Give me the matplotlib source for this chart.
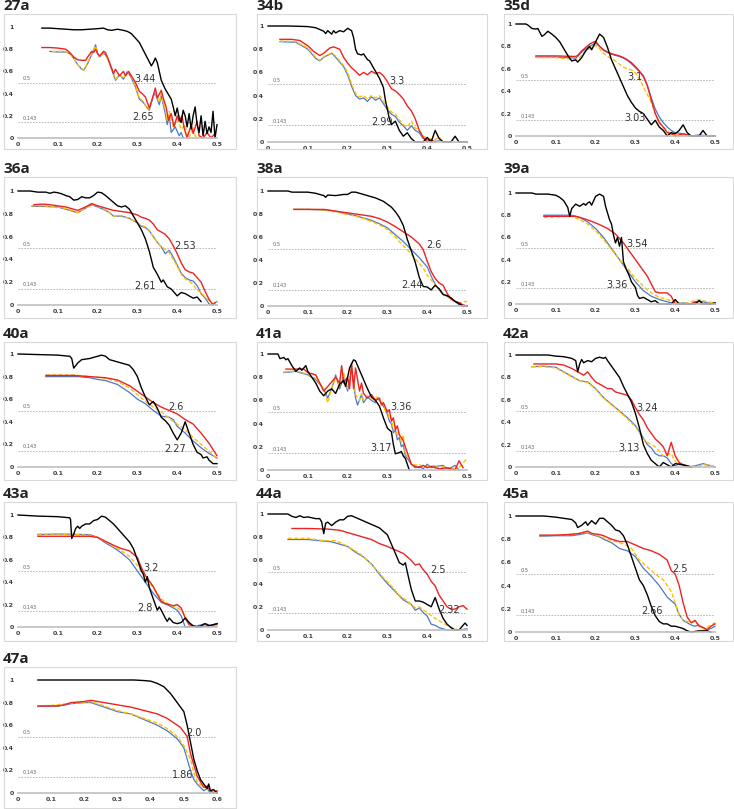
import matplotlib
matplotlib.use("Agg")
import matplotlib.pyplot as plt
from matplotlib.patches import Rectangle

# ---------------- DATA ----------------
PANEL_NAMES = ["27a", "34b", "35d", "36a", "38a", "39a", "40a",
               "41a", "42a", "43a", "44a", "45a", "47a"]
X_MAX = [0.5, 0.5, 0.5, 0.5, 0.5, 0.5, 0.5, 0.5, 0.5, 0.5, 0.5, 0.5, 0.6]
RES_HALF = ["3.44", "3.3", "3.1", "2.53", "2.6", "3.54", "2.6",
            "3.36", "3.24", "3.2", "2.5", "2.5", "2.0"]
RES_GOLD = ["2.65", "2.99", "3.03", "2.61", "2.44", "3.36", "2.27",
            "3.17", "3.13", "2.8", "2.32", "2.66", "1.86"]
THRESHOLDS = [0.5, 0.143]
THRESHOLD_LABELS = ["0.5", "0.143"]

P27A_BLACK = [(0.06,0.99),(0.08,0.99),(0.1,0.985),(0.12,0.98),(0.14,0.975),(0.16,0.975),(0.18,0.98),(0.2,0.985),(0.215,0.99),(0.225,0.975),(0.235,0.97),(0.25,0.98),(0.265,0.97),(0.275,0.96),(0.285,0.94),(0.295,0.9),(0.305,0.86),(0.315,0.79),(0.325,0.72),(0.335,0.65),(0.34,0.68),(0.345,0.72),(0.35,0.68),(0.355,0.6),(0.36,0.52),(0.37,0.44),(0.38,0.38),(0.385,0.35),(0.39,0.28),(0.395,0.2),(0.4,0.27),(0.405,0.18),(0.41,0.14),(0.415,0.25),(0.42,0.2),(0.425,0.1),(0.43,0.22),(0.435,0.08),(0.44,0.2),(0.445,0.28),(0.45,0.12),(0.455,0.05),(0.46,0.2),(0.465,0.02),(0.47,0.15),(0.475,0.04),(0.48,0.1),(0.485,0.05),(0.49,0.24),(0.495,0.0),(0.5,0.12)]
P27A_RED = [(0.06,0.815),(0.08,0.815),(0.1,0.81),(0.12,0.8),(0.13,0.77),(0.14,0.73),(0.15,0.705),(0.16,0.7),(0.17,0.7),(0.175,0.73),(0.185,0.78),(0.19,0.77),(0.195,0.8),(0.2,0.76),(0.205,0.74),(0.215,0.78),(0.22,0.77),(0.23,0.68),(0.24,0.58),(0.245,0.62),(0.255,0.56),(0.265,0.6),(0.27,0.56),(0.278,0.6),(0.285,0.56),(0.295,0.5),(0.305,0.42),(0.312,0.4),(0.32,0.37),(0.33,0.27),(0.338,0.36),(0.345,0.45),(0.35,0.36),(0.36,0.43),(0.365,0.36),(0.372,0.28),(0.378,0.16),(0.385,0.22),(0.392,0.1),(0.4,0.2),(0.405,0.15),(0.412,0.2),(0.418,0.08),(0.425,0.0),(0.435,0.12),(0.44,0.04),(0.45,0.15),(0.455,0.02),(0.465,0.0),(0.475,0.05),(0.485,0.0),(0.495,0.04)]
P27A_BLUE = [(0.08,0.78),(0.1,0.775),(0.12,0.775),(0.13,0.76),(0.14,0.72),(0.15,0.66),(0.16,0.62),(0.165,0.61),(0.175,0.67),(0.185,0.75),(0.195,0.84),(0.2,0.76),(0.205,0.73),(0.215,0.77),(0.225,0.72),(0.235,0.62),(0.245,0.52),(0.255,0.57),(0.265,0.53),(0.275,0.6),(0.285,0.54),(0.295,0.46),(0.305,0.35),(0.315,0.32),(0.325,0.27),(0.33,0.25),(0.34,0.38),(0.345,0.4),(0.355,0.3),(0.36,0.38),(0.37,0.22),(0.375,0.12),(0.38,0.2),(0.385,0.05),(0.395,0.1),(0.405,0.02),(0.41,0.05),(0.415,0.0)]
P27A_YELLOW = [(0.085,0.78),(0.1,0.78),(0.12,0.78),(0.13,0.76),(0.14,0.72),(0.15,0.66),(0.165,0.61),(0.175,0.68),(0.185,0.76),(0.195,0.83),(0.2,0.76),(0.205,0.73),(0.215,0.76),(0.225,0.72),(0.235,0.63),(0.245,0.53),(0.255,0.57),(0.265,0.54),(0.275,0.6),(0.285,0.55),(0.295,0.47),(0.305,0.36),(0.315,0.33),(0.325,0.27),(0.33,0.26),(0.34,0.38),(0.345,0.41),(0.355,0.32),(0.36,0.4),(0.37,0.25),(0.375,0.16),(0.38,0.24),(0.39,0.1),(0.4,0.17),(0.41,0.08),(0.42,0.12),(0.425,0.02),(0.43,0.0),(0.44,0.1),(0.445,0.02),(0.45,0.0)]

P34B_BLACK = [(0,1.0),(0.05,1.0),(0.1,0.995),(0.12,0.985),(0.13,0.97),(0.14,0.955),(0.145,0.935),(0.15,0.96),(0.16,0.93),(0.165,0.96),(0.17,0.94),(0.18,0.96),(0.19,0.95),(0.2,0.98),(0.21,0.96),(0.215,0.9),(0.22,0.8),(0.225,0.76),(0.235,0.75),(0.24,0.76),(0.25,0.71),(0.255,0.7),(0.26,0.67),(0.27,0.61),(0.28,0.55),(0.29,0.47),(0.295,0.36),(0.3,0.28),(0.305,0.2),(0.31,0.15),(0.32,0.18),(0.33,0.1),(0.34,0.05),(0.35,0.08),(0.36,0.03),(0.37,0.0),(0.39,0.0),(0.4,0.04),(0.41,0.0),(0.42,0.1),(0.43,0.03),(0.44,0.0),(0.46,0.0),(0.47,0.05),(0.48,0.0),(0.5,0.0)]
P34B_RED = [(0.03,0.885),(0.06,0.885),(0.08,0.875),(0.1,0.83),(0.115,0.78),(0.13,0.745),(0.14,0.765),(0.155,0.81),(0.165,0.82),(0.18,0.8),(0.19,0.73),(0.2,0.68),(0.21,0.64),(0.22,0.61),(0.23,0.575),(0.24,0.6),(0.25,0.58),(0.26,0.61),(0.27,0.59),(0.28,0.6),(0.29,0.57),(0.3,0.52),(0.31,0.46),(0.32,0.44),(0.33,0.41),(0.34,0.37),(0.35,0.31),(0.36,0.27),(0.37,0.2),(0.38,0.1),(0.39,0.04),(0.4,0.0),(0.41,0.02),(0.42,0.0)]
P34B_BLUE = [(0.03,0.865),(0.07,0.86),(0.1,0.8),(0.12,0.72),(0.13,0.7),(0.14,0.73),(0.16,0.765),(0.17,0.73),(0.18,0.69),(0.19,0.65),(0.2,0.58),(0.21,0.48),(0.22,0.4),(0.23,0.37),(0.24,0.38),(0.25,0.35),(0.26,0.39),(0.27,0.36),(0.28,0.38),(0.29,0.33),(0.3,0.28),(0.31,0.24),(0.32,0.22),(0.33,0.17),(0.34,0.14),(0.35,0.1),(0.36,0.14),(0.37,0.1),(0.38,0.08),(0.39,0.03),(0.4,0.02),(0.41,0.0),(0.43,0.01)]
P34B_YELLOW = [(0.03,0.87),(0.07,0.865),(0.1,0.81),(0.12,0.73),(0.13,0.705),(0.14,0.735),(0.16,0.77),(0.17,0.74),(0.18,0.7),(0.19,0.66),(0.2,0.6),(0.21,0.5),(0.22,0.42),(0.23,0.39),(0.24,0.4),(0.25,0.37),(0.26,0.4),(0.27,0.38),(0.28,0.4),(0.29,0.35),(0.3,0.3),(0.31,0.26),(0.32,0.24),(0.33,0.19),(0.34,0.15),(0.35,0.13),(0.36,0.18),(0.37,0.12),(0.38,0.1),(0.39,0.05),(0.4,0.03),(0.42,0.02),(0.43,0.04),(0.44,0.0)]

P35D_BLACK = [(0,1.0),(0.025,1.0),(0.03,0.99),(0.04,0.96),(0.05,0.955),(0.055,0.96),(0.065,0.89),(0.07,0.9),(0.08,0.935),(0.09,0.91),(0.1,0.88),(0.11,0.84),(0.12,0.78),(0.13,0.72),(0.14,0.67),(0.15,0.68),(0.155,0.66),(0.165,0.7),(0.175,0.76),(0.185,0.8),(0.19,0.77),(0.2,0.84),(0.21,0.91),(0.22,0.88),(0.23,0.79),(0.24,0.68),(0.25,0.6),(0.26,0.52),(0.27,0.44),(0.28,0.36),(0.29,0.3),(0.3,0.25),(0.31,0.22),(0.32,0.2),(0.33,0.15),(0.34,0.1),(0.35,0.14),(0.36,0.08),(0.37,0.05),(0.38,0.0),(0.39,0.03),(0.4,0.02),(0.41,0.05),(0.42,0.1),(0.43,0.03),(0.44,0.0),(0.46,0.0),(0.47,0.05),(0.48,0.0),(0.5,0.0)]
P35D_RED = [(0.05,0.715),(0.1,0.715),(0.15,0.71),(0.155,0.72),(0.165,0.76),(0.175,0.79),(0.185,0.82),(0.195,0.84),(0.2,0.845),(0.21,0.8),(0.22,0.77),(0.23,0.75),(0.24,0.735),(0.25,0.725),(0.26,0.715),(0.27,0.7),(0.28,0.68),(0.29,0.655),(0.3,0.62),(0.31,0.58),(0.32,0.53),(0.33,0.45),(0.34,0.32),(0.35,0.2),(0.36,0.12),(0.37,0.08),(0.38,0.03),(0.39,0.02),(0.4,0.0),(0.42,0.02),(0.44,0.0),(0.47,0.0)]
P35D_BLUE = [(0.05,0.705),(0.1,0.705),(0.15,0.695),(0.155,0.71),(0.165,0.75),(0.175,0.78),(0.185,0.8),(0.195,0.82),(0.2,0.83),(0.21,0.8),(0.22,0.765),(0.23,0.745),(0.24,0.73),(0.25,0.72),(0.26,0.71),(0.27,0.695),(0.28,0.675),(0.29,0.645),(0.3,0.61),(0.31,0.575),(0.32,0.54),(0.33,0.45),(0.34,0.34),(0.35,0.24),(0.36,0.17),(0.37,0.12),(0.38,0.08),(0.39,0.05),(0.4,0.03),(0.42,0.02),(0.44,0.0),(0.46,0.01),(0.48,0.0)]
P35D_YELLOW = [(0.05,0.7),(0.1,0.7),(0.15,0.68),(0.16,0.7),(0.17,0.74),(0.18,0.77),(0.19,0.79),(0.2,0.81),(0.21,0.78),(0.22,0.74),(0.23,0.71),(0.24,0.69),(0.25,0.67),(0.26,0.64),(0.27,0.615),(0.28,0.6),(0.29,0.59),(0.3,0.565),(0.31,0.51),(0.32,0.44),(0.33,0.37),(0.34,0.3),(0.35,0.2),(0.36,0.12),(0.37,0.08),(0.38,0.05),(0.39,0.02),(0.4,0.01),(0.42,0.0)]

P36A_BLACK = [(0,1.0),(0.03,1.0),(0.05,0.99),(0.07,0.99),(0.08,0.98),(0.09,0.99),(0.1,0.985),(0.11,0.975),(0.12,0.96),(0.13,0.95),(0.14,0.92),(0.15,0.925),(0.16,0.95),(0.17,0.94),(0.18,0.94),(0.19,0.96),(0.2,0.99),(0.21,0.985),(0.22,0.96),(0.23,0.93),(0.24,0.9),(0.25,0.87),(0.26,0.86),(0.27,0.87),(0.28,0.84),(0.29,0.78),(0.3,0.72),(0.31,0.66),(0.32,0.58),(0.33,0.47),(0.34,0.33),(0.35,0.27),(0.36,0.2),(0.365,0.22),(0.375,0.16),(0.385,0.14),(0.395,0.1),(0.4,0.08),(0.41,0.11),(0.42,0.1),(0.43,0.08),(0.44,0.06),(0.45,0.07),(0.46,0.03)]
P36A_RED = [(0.04,0.88),(0.06,0.885),(0.08,0.88),(0.1,0.87),(0.12,0.86),(0.14,0.84),(0.15,0.83),(0.17,0.86),(0.185,0.89),(0.2,0.87),(0.22,0.85),(0.24,0.83),(0.26,0.82),(0.28,0.81),(0.3,0.79),(0.31,0.77),(0.32,0.76),(0.33,0.745),(0.34,0.71),(0.35,0.66),(0.36,0.64),(0.37,0.62),(0.38,0.58),(0.39,0.52),(0.4,0.45),(0.41,0.37),(0.42,0.31),(0.43,0.29),(0.44,0.28),(0.45,0.24),(0.46,0.2),(0.47,0.12),(0.48,0.05),(0.49,0.0),(0.495,0.02)]
P36A_BLUE = [(0.035,0.865),(0.06,0.865),(0.1,0.86),(0.12,0.84),(0.14,0.82),(0.15,0.81),(0.17,0.85),(0.185,0.88),(0.2,0.86),(0.22,0.83),(0.23,0.81),(0.24,0.78),(0.26,0.78),(0.28,0.76),(0.3,0.72),(0.31,0.69),(0.32,0.68),(0.33,0.65),(0.34,0.6),(0.35,0.55),(0.36,0.51),(0.37,0.45),(0.38,0.48),(0.39,0.42),(0.4,0.35),(0.41,0.28),(0.42,0.24),(0.43,0.22),(0.44,0.21),(0.45,0.17),(0.46,0.1),(0.47,0.06),(0.48,0.01),(0.485,0.0),(0.5,0.03)]
P36A_YELLOW = [(0.035,0.87),(0.06,0.87),(0.1,0.86),(0.12,0.845),(0.14,0.825),(0.15,0.81),(0.17,0.85),(0.185,0.885),(0.2,0.865),(0.22,0.835),(0.23,0.81),(0.24,0.78),(0.26,0.785),(0.28,0.76),(0.3,0.72),(0.31,0.7),(0.32,0.685),(0.33,0.655),(0.34,0.6),(0.35,0.55),(0.36,0.51),(0.37,0.49),(0.38,0.46),(0.39,0.4),(0.4,0.34),(0.41,0.27),(0.42,0.23),(0.43,0.21),(0.44,0.18),(0.45,0.13),(0.46,0.11),(0.47,0.07),(0.48,0.04),(0.49,0.01),(0.5,0.03)]

P38A_BLACK = [(0,1.0),(0.05,1.0),(0.06,0.99),(0.1,0.99),(0.12,0.98),(0.13,0.97),(0.14,0.96),(0.145,0.945),(0.15,0.965),(0.17,0.96),(0.19,0.97),(0.2,0.97),(0.21,0.99),(0.22,0.99),(0.24,0.97),(0.26,0.95),(0.27,0.94),(0.29,0.91),(0.31,0.86),(0.32,0.82),(0.33,0.77),(0.34,0.7),(0.35,0.58),(0.36,0.48),(0.37,0.38),(0.38,0.25),(0.39,0.17),(0.4,0.165),(0.41,0.14),(0.42,0.18),(0.43,0.15),(0.44,0.1),(0.45,0.09),(0.46,0.07),(0.47,0.04),(0.48,0.02),(0.49,0.0),(0.5,0.0)]
P38A_RED = [(0.065,0.84),(0.1,0.84),(0.14,0.84),(0.16,0.83),(0.18,0.82),(0.2,0.81),(0.22,0.8),(0.24,0.79),(0.26,0.78),(0.28,0.76),(0.3,0.73),(0.32,0.69),(0.34,0.645),(0.36,0.6),(0.38,0.54),(0.39,0.49),(0.4,0.39),(0.41,0.3),(0.42,0.24),(0.43,0.2),(0.44,0.18),(0.45,0.11),(0.46,0.06),(0.47,0.04),(0.48,0.03),(0.49,0.01),(0.5,0.0)]
P38A_BLUE = [(0.065,0.84),(0.1,0.84),(0.14,0.835),(0.16,0.83),(0.18,0.815),(0.2,0.8),(0.22,0.785),(0.24,0.765),(0.26,0.745),(0.28,0.715),(0.3,0.68),(0.32,0.62),(0.34,0.56),(0.36,0.49),(0.38,0.42),(0.4,0.34),(0.41,0.26),(0.42,0.19),(0.43,0.14),(0.44,0.1),(0.45,0.085),(0.46,0.065),(0.47,0.04),(0.48,0.01),(0.5,0.0)]
P38A_YELLOW = [(0.065,0.84),(0.1,0.84),(0.14,0.835),(0.16,0.825),(0.18,0.81),(0.2,0.795),(0.22,0.78),(0.24,0.76),(0.26,0.735),(0.28,0.705),(0.3,0.665),(0.32,0.6),(0.33,0.56),(0.35,0.49),(0.37,0.41),(0.39,0.33),(0.4,0.27),(0.42,0.18),(0.44,0.1),(0.46,0.06),(0.48,0.02),(0.49,0.035),(0.5,0.04)]

P39A_BLACK = [(0,1.0),(0.04,1.0),(0.05,0.99),(0.08,0.99),(0.1,0.98),(0.11,0.96),(0.12,0.93),(0.13,0.87),(0.135,0.79),(0.14,0.86),(0.15,0.9),(0.16,0.88),(0.17,0.905),(0.175,0.89),(0.18,0.91),(0.185,0.92),(0.19,0.89),(0.2,0.97),(0.21,0.99),(0.22,0.97),(0.225,0.88),(0.235,0.76),(0.24,0.72),(0.245,0.62),(0.25,0.55),(0.255,0.6),(0.26,0.52),(0.265,0.6),(0.27,0.38),(0.275,0.33),(0.285,0.25),(0.29,0.2),(0.3,0.15),(0.305,0.08),(0.31,0.05),(0.32,0.06),(0.33,0.04),(0.34,0.02),(0.35,0.03),(0.36,0.0),(0.39,0.0),(0.4,0.04),(0.41,0.0),(0.45,0.0),(0.46,0.03),(0.47,0.0),(0.49,0.0),(0.5,0.01)]
P39A_RED = [(0.07,0.79),(0.1,0.79),(0.14,0.79),(0.15,0.79),(0.17,0.77),(0.19,0.745),(0.21,0.715),(0.23,0.68),(0.25,0.63),(0.27,0.55),(0.29,0.45),(0.31,0.35),(0.33,0.25),(0.34,0.18),(0.35,0.11),(0.36,0.1),(0.37,0.1),(0.38,0.1),(0.39,0.07),(0.4,0.0),(0.44,0.0),(0.45,0.02),(0.46,0.0),(0.5,0.0)]
P39A_BLUE = [(0.07,0.8),(0.1,0.8),(0.14,0.8),(0.16,0.78),(0.18,0.74),(0.2,0.68),(0.22,0.6),(0.24,0.5),(0.26,0.4),(0.28,0.3),(0.3,0.2),(0.32,0.12),(0.34,0.07),(0.36,0.04),(0.38,0.02),(0.4,0.0),(0.42,0.01),(0.44,0.0),(0.46,0.03),(0.48,0.01),(0.5,0.01)]
P39A_YELLOW = [(0.07,0.78),(0.1,0.785),(0.14,0.79),(0.16,0.76),(0.18,0.72),(0.2,0.66),(0.22,0.58),(0.24,0.49),(0.26,0.4),(0.28,0.32),(0.3,0.23),(0.32,0.16),(0.34,0.1),(0.36,0.06),(0.38,0.04),(0.4,0.02),(0.42,0.0),(0.44,0.02),(0.46,0.04),(0.48,0.02),(0.5,0.01)]

P40A_BLACK = [(0,1.0),(0.05,0.995),(0.1,0.99),(0.13,0.98),(0.135,0.96),(0.14,0.875),(0.15,0.92),(0.16,0.95),(0.18,0.96),(0.19,0.97),(0.2,0.98),(0.21,0.99),(0.22,0.98),(0.23,0.95),(0.25,0.93),(0.26,0.92),(0.28,0.9),(0.29,0.86),(0.3,0.8),(0.31,0.7),(0.32,0.62),(0.33,0.55),(0.34,0.58),(0.35,0.52),(0.36,0.44),(0.37,0.41),(0.38,0.37),(0.39,0.3),(0.4,0.24),(0.41,0.3),(0.42,0.4),(0.43,0.3),(0.44,0.2),(0.45,0.13),(0.46,0.11),(0.465,0.08),(0.475,0.09),(0.48,0.06),(0.49,0.03),(0.5,0.03)]
P40A_RED = [(0.07,0.81),(0.1,0.81),(0.14,0.81),(0.18,0.8),(0.22,0.79),(0.25,0.77),(0.28,0.72),(0.3,0.67),(0.32,0.62),(0.34,0.57),(0.36,0.53),(0.38,0.5),(0.4,0.47),(0.42,0.42),(0.44,0.38),(0.46,0.3),(0.48,0.21),(0.5,0.1)]
P40A_BLUE = [(0.07,0.8),(0.1,0.8),(0.15,0.8),(0.18,0.79),(0.2,0.775),(0.22,0.765),(0.25,0.73),(0.28,0.66),(0.3,0.6),(0.32,0.56),(0.34,0.5),(0.36,0.45),(0.38,0.44),(0.39,0.42),(0.4,0.36),(0.42,0.3),(0.44,0.23),(0.46,0.17),(0.48,0.12),(0.5,0.08)]
P40A_YELLOW = [(0.07,0.815),(0.1,0.815),(0.14,0.815),(0.18,0.8),(0.22,0.785),(0.25,0.755),(0.28,0.7),(0.3,0.64),(0.32,0.58),(0.34,0.53),(0.36,0.49),(0.38,0.43),(0.4,0.38),(0.42,0.33),(0.44,0.26),(0.46,0.2),(0.48,0.14),(0.5,0.07)]

P41A_BLACK = [(0,1.0),(0.025,1.0),(0.03,0.96),(0.04,0.97),(0.045,0.95),(0.05,0.96),(0.06,0.9),(0.07,0.85),(0.08,0.88),(0.085,0.86),(0.095,0.9),(0.1,0.85),(0.11,0.8),(0.12,0.75),(0.13,0.68),(0.14,0.64),(0.15,0.68),(0.16,0.7),(0.17,0.66),(0.18,0.74),(0.19,0.77),(0.195,0.72),(0.205,0.88),(0.215,0.95),(0.22,0.94),(0.23,0.86),(0.24,0.78),(0.25,0.7),(0.26,0.63),(0.27,0.6),(0.28,0.55),(0.29,0.45),(0.3,0.36),(0.31,0.33),(0.315,0.22),(0.32,0.14),(0.33,0.15),(0.335,0.16),(0.34,0.12),(0.345,0.1),(0.35,0.05),(0.355,0.0)]
P41A_RED = [(0.045,0.87),(0.09,0.87),(0.1,0.84),(0.12,0.82),(0.13,0.75),(0.14,0.68),(0.15,0.72),(0.16,0.76),(0.17,0.8),(0.18,0.75),(0.185,0.9),(0.19,0.75),(0.2,0.8),(0.205,0.7),(0.21,0.92),(0.215,0.7),(0.22,0.88),(0.23,0.68),(0.235,0.75),(0.24,0.66),(0.25,0.62),(0.26,0.65),(0.27,0.6),(0.28,0.62),(0.285,0.56),(0.29,0.58),(0.3,0.5),(0.305,0.52),(0.31,0.42),(0.315,0.45),(0.32,0.35),(0.325,0.38),(0.33,0.3),(0.335,0.28),(0.34,0.25),(0.345,0.2),(0.35,0.15),(0.355,0.1),(0.36,0.05),(0.37,0.03),(0.38,0.02),(0.39,0.04),(0.4,0.02),(0.41,0.03),(0.43,0.01),(0.45,0.02),(0.47,0.0),(0.48,0.08),(0.49,0.02)]
P41A_BLUE = [(0.04,0.84),(0.07,0.85),(0.1,0.82),(0.12,0.78),(0.14,0.7),(0.15,0.62),(0.16,0.7),(0.17,0.82),(0.18,0.7),(0.19,0.8),(0.2,0.68),(0.21,0.88),(0.22,0.62),(0.225,0.56),(0.235,0.65),(0.24,0.58),(0.25,0.63),(0.26,0.6),(0.27,0.58),(0.275,0.62),(0.28,0.6),(0.29,0.55),(0.295,0.52),(0.3,0.48),(0.305,0.42),(0.31,0.4),(0.315,0.32),(0.32,0.35),(0.325,0.26),(0.33,0.28),(0.335,0.2),(0.34,0.22),(0.345,0.12),(0.35,0.1),(0.36,0.05),(0.37,0.02),(0.38,0.03),(0.39,0.01),(0.4,0.05),(0.41,0.02),(0.42,0.03),(0.44,0.04),(0.45,0.01),(0.46,0.02),(0.47,0.04),(0.48,0.0)]
P41A_YELLOW = [(0.04,0.845),(0.07,0.855),(0.1,0.825),(0.12,0.79),(0.14,0.7),(0.15,0.58),(0.16,0.7),(0.17,0.8),(0.18,0.72),(0.19,0.84),(0.2,0.7),(0.21,0.9),(0.22,0.65),(0.23,0.6),(0.235,0.66),(0.24,0.6),(0.25,0.64),(0.26,0.62),(0.27,0.6),(0.275,0.64),(0.28,0.6),(0.29,0.58),(0.295,0.5),(0.3,0.52),(0.305,0.44),(0.31,0.45),(0.315,0.34),(0.32,0.38),(0.325,0.3),(0.33,0.32),(0.335,0.24),(0.34,0.3),(0.345,0.14),(0.35,0.12),(0.36,0.06),(0.37,0.04),(0.38,0.05),(0.39,0.02),(0.4,0.03),(0.42,0.04),(0.43,0.01),(0.44,0.03),(0.46,0.01),(0.48,0.02),(0.5,0.1)]

P42A_BLACK = [(0,1.0),(0.08,1.0),(0.1,0.99),(0.12,0.985),(0.14,0.97),(0.15,0.95),(0.155,0.85),(0.16,0.92),(0.165,0.96),(0.17,0.93),(0.18,0.95),(0.19,0.94),(0.2,0.97),(0.21,0.98),(0.22,0.97),(0.225,0.98),(0.23,0.95),(0.24,0.9),(0.25,0.85),(0.26,0.8),(0.27,0.72),(0.28,0.65),(0.29,0.58),(0.3,0.48),(0.31,0.35),(0.32,0.2),(0.33,0.12),(0.34,0.06),(0.35,0.03),(0.36,0.0),(0.37,0.04),(0.38,0.02),(0.39,0.0),(0.4,0.03),(0.42,0.02),(0.44,0.0)]
P42A_RED = [(0.045,0.92),(0.1,0.92),(0.12,0.91),(0.14,0.88),(0.16,0.84),(0.17,0.82),(0.18,0.85),(0.19,0.8),(0.2,0.76),(0.21,0.74),(0.22,0.72),(0.23,0.7),(0.24,0.7),(0.25,0.67),(0.26,0.66),(0.27,0.65),(0.28,0.64),(0.29,0.6),(0.3,0.53),(0.31,0.47),(0.32,0.42),(0.33,0.35),(0.34,0.3),(0.35,0.25),(0.36,0.22),(0.37,0.18),(0.38,0.1),(0.39,0.22),(0.4,0.1),(0.41,0.04),(0.42,0.02),(0.44,0.0)]
P42A_BLUE = [(0.04,0.895),(0.07,0.9),(0.1,0.89),(0.12,0.85),(0.14,0.81),(0.16,0.77),(0.18,0.76),(0.2,0.7),(0.22,0.62),(0.24,0.56),(0.26,0.5),(0.28,0.44),(0.3,0.37),(0.32,0.26),(0.33,0.2),(0.34,0.17),(0.35,0.12),(0.36,0.1),(0.37,0.1),(0.38,0.08),(0.39,0.03),(0.4,0.01),(0.41,0.03),(0.43,0.0),(0.45,0.01),(0.47,0.03),(0.5,0.0)]
P42A_YELLOW = [(0.04,0.895),(0.07,0.895),(0.1,0.885),(0.12,0.845),(0.14,0.805),(0.16,0.77),(0.18,0.755),(0.2,0.695),(0.22,0.615),(0.24,0.555),(0.26,0.495),(0.28,0.43),(0.3,0.36),(0.32,0.25),(0.33,0.22),(0.34,0.2),(0.35,0.18),(0.36,0.14),(0.37,0.1),(0.38,0.11),(0.39,0.12),(0.4,0.05),(0.41,0.02),(0.43,0.01),(0.45,0.0),(0.47,0.02),(0.5,0.01)]

P43A_BLACK = [(0,1.0),(0.05,0.99),(0.1,0.985),(0.13,0.975),(0.132,0.96),(0.135,0.79),(0.14,0.83),(0.145,0.88),(0.15,0.9),(0.155,0.88),(0.16,0.9),(0.17,0.92),(0.18,0.92),(0.19,0.95),(0.2,0.96),(0.21,0.99),(0.22,0.98),(0.23,0.95),(0.24,0.92),(0.25,0.88),(0.26,0.84),(0.27,0.8),(0.28,0.76),(0.29,0.7),(0.3,0.6),(0.31,0.5),(0.315,0.47),(0.32,0.4),(0.325,0.45),(0.33,0.35),(0.34,0.25),(0.35,0.15),(0.355,0.18),(0.36,0.15),(0.37,0.08),(0.375,0.05),(0.38,0.08),(0.39,0.04),(0.4,0.03),(0.41,0.04),(0.42,0.08),(0.43,0.04),(0.44,0.01),(0.45,0.0),(0.46,0.01),(0.47,0.03),(0.48,0.01),(0.49,0.02),(0.5,0.03)]
P43A_RED = [(0.05,0.81),(0.1,0.81),(0.18,0.81),(0.2,0.8),(0.22,0.765),(0.24,0.73),(0.26,0.7),(0.28,0.68),(0.3,0.62),(0.31,0.53),(0.32,0.46),(0.33,0.41),(0.34,0.36),(0.35,0.29),(0.36,0.23),(0.37,0.21),(0.38,0.2),(0.39,0.19),(0.4,0.2),(0.41,0.17),(0.42,0.08),(0.43,0.02),(0.45,0.0),(0.48,0.01),(0.5,0.03)]
P43A_BLUE = [(0.05,0.825),(0.1,0.83),(0.18,0.825),(0.2,0.8),(0.22,0.75),(0.24,0.71),(0.26,0.66),(0.28,0.6),(0.3,0.5),(0.32,0.4),(0.34,0.3),(0.36,0.22),(0.38,0.19),(0.4,0.15),(0.41,0.1),(0.42,0.0),(0.45,0.01),(0.47,0.03),(0.49,0.01),(0.5,0.02)]
P43A_YELLOW = [(0.05,0.83),(0.1,0.83),(0.18,0.82),(0.2,0.8),(0.22,0.76),(0.24,0.72),(0.26,0.68),(0.28,0.63),(0.3,0.55),(0.32,0.44),(0.34,0.35),(0.36,0.25),(0.38,0.2),(0.4,0.17),(0.41,0.15),(0.42,0.1),(0.43,0.03),(0.45,0.0),(0.5,0.01)]

P44A_BLACK = [(0,1.0),(0.05,1.0),(0.06,0.98),(0.07,0.97),(0.08,0.985),(0.09,0.97),(0.1,0.975),(0.12,0.96),(0.13,0.96),(0.135,0.93),(0.14,0.83),(0.145,0.92),(0.15,0.93),(0.16,0.9),(0.17,0.93),(0.18,0.95),(0.19,0.95),(0.2,0.98),(0.21,0.985),(0.22,0.97),(0.24,0.94),(0.26,0.91),(0.28,0.88),(0.3,0.82),(0.31,0.74),(0.32,0.66),(0.33,0.58),(0.34,0.56),(0.345,0.58),(0.35,0.5),(0.36,0.35),(0.37,0.25),(0.38,0.25),(0.39,0.24),(0.4,0.22),(0.41,0.2),(0.42,0.28),(0.43,0.18),(0.44,0.1),(0.45,0.05),(0.46,0.02),(0.47,0.0),(0.48,0.0),(0.49,0.04),(0.495,0.06),(0.5,0.04)]
P44A_RED = [(0.06,0.875),(0.1,0.875),(0.15,0.87),(0.18,0.86),(0.2,0.84),(0.23,0.81),(0.26,0.78),(0.28,0.745),(0.3,0.72),(0.32,0.69),(0.34,0.66),(0.36,0.6),(0.37,0.56),(0.38,0.57),(0.39,0.52),(0.4,0.48),(0.41,0.42),(0.42,0.38),(0.43,0.3),(0.44,0.25),(0.45,0.2),(0.46,0.18),(0.47,0.18),(0.48,0.2),(0.49,0.21),(0.5,0.18)]
P44A_BLUE = [(0.05,0.78),(0.1,0.78),(0.13,0.77),(0.16,0.76),(0.18,0.74),(0.2,0.72),(0.22,0.67),(0.24,0.63),(0.26,0.57),(0.28,0.48),(0.3,0.4),(0.32,0.33),(0.34,0.26),(0.36,0.22),(0.37,0.17),(0.38,0.19),(0.39,0.15),(0.4,0.12),(0.41,0.05),(0.42,0.04),(0.43,0.02),(0.45,0.0),(0.48,0.0),(0.5,0.01)]
P44A_YELLOW = [(0.05,0.79),(0.1,0.79),(0.14,0.77),(0.17,0.77),(0.19,0.74),(0.21,0.7),(0.23,0.66),(0.25,0.6),(0.27,0.53),(0.29,0.45),(0.31,0.38),(0.33,0.3),(0.35,0.25),(0.37,0.19),(0.38,0.2),(0.4,0.15),(0.42,0.1),(0.44,0.06),(0.45,0.04),(0.47,0.01),(0.48,0.0)]

P45A_BLACK = [(0,1.0),(0.07,1.0),(0.1,0.99),(0.12,0.98),(0.14,0.97),(0.15,0.94),(0.155,0.9),(0.165,0.92),(0.175,0.95),(0.18,0.92),(0.19,0.96),(0.2,0.93),(0.21,0.98),(0.22,0.98),(0.23,0.95),(0.24,0.92),(0.25,0.88),(0.26,0.87),(0.27,0.83),(0.28,0.75),(0.29,0.65),(0.3,0.55),(0.31,0.45),(0.32,0.4),(0.33,0.32),(0.34,0.22),(0.35,0.14),(0.36,0.09),(0.37,0.07),(0.38,0.07),(0.39,0.05),(0.4,0.05),(0.41,0.04),(0.42,0.03),(0.43,0.01),(0.44,0.0),(0.46,0.01),(0.48,0.01),(0.49,0.0)]
P45A_RED = [(0.06,0.835),(0.1,0.835),(0.13,0.84),(0.16,0.85),(0.18,0.87),(0.19,0.85),(0.21,0.84),(0.22,0.83),(0.24,0.8),(0.26,0.78),(0.28,0.78),(0.3,0.75),(0.32,0.72),(0.34,0.7),(0.36,0.67),(0.38,0.62),(0.39,0.53),(0.4,0.5),(0.41,0.4),(0.42,0.25),(0.43,0.13),(0.44,0.08),(0.45,0.1),(0.46,0.05),(0.47,0.04),(0.48,0.02),(0.49,0.05),(0.5,0.07)]
P45A_BLUE = [(0.06,0.825),(0.1,0.83),(0.14,0.83),(0.16,0.84),(0.18,0.855),(0.19,0.84),(0.21,0.82),(0.22,0.8),(0.24,0.77),(0.26,0.72),(0.28,0.7),(0.3,0.65),(0.32,0.55),(0.34,0.48),(0.36,0.4),(0.38,0.3),(0.4,0.24),(0.41,0.15),(0.42,0.1),(0.43,0.08),(0.44,0.06),(0.45,0.05),(0.46,0.06),(0.47,0.03),(0.48,0.02),(0.49,0.03),(0.5,0.05)]
P45A_YELLOW = [(0.06,0.83),(0.1,0.835),(0.14,0.84),(0.16,0.85),(0.18,0.86),(0.21,0.825),(0.23,0.8),(0.25,0.78),(0.27,0.76),(0.29,0.72),(0.31,0.62),(0.33,0.56),(0.35,0.5),(0.37,0.45),(0.39,0.35),(0.4,0.25),(0.41,0.15),(0.42,0.1),(0.44,0.08),(0.45,0.09),(0.46,0.06),(0.47,0.03),(0.48,0.04),(0.49,0.06),(0.5,0.08)]

P47A_BLACK = [(0.06,1.0),(0.2,1.0),(0.35,1.0),(0.38,0.995),(0.4,0.99),(0.42,0.97),(0.44,0.94),(0.46,0.88),(0.48,0.8),(0.5,0.72),(0.51,0.6),(0.52,0.45),(0.53,0.3),(0.54,0.2),(0.55,0.12),(0.56,0.08),(0.57,0.04),(0.575,0.08),(0.58,0.02),(0.59,0.03),(0.6,0.0)]
P47A_RED = [(0.06,0.77),(0.1,0.77),(0.12,0.77),(0.14,0.78),(0.16,0.8),(0.2,0.81),(0.22,0.82),(0.26,0.8),(0.3,0.78),(0.34,0.76),(0.38,0.73),(0.42,0.7),(0.45,0.66),(0.47,0.62),(0.49,0.58),(0.51,0.5),(0.52,0.35),(0.53,0.25),(0.54,0.15),(0.55,0.1),(0.56,0.05),(0.57,0.06),(0.58,0.02),(0.59,0.0),(0.6,0.02)]
P47A_BLUE = [(0.06,0.765),(0.1,0.77),(0.12,0.77),(0.16,0.79),(0.2,0.8),(0.22,0.8),(0.26,0.76),(0.3,0.72),(0.34,0.7),(0.38,0.65),(0.42,0.6),(0.45,0.55),(0.48,0.48),(0.5,0.4),(0.51,0.3),(0.52,0.2),(0.53,0.12),(0.54,0.08),(0.55,0.05),(0.56,0.02),(0.57,0.04),(0.58,0.0),(0.6,0.01)]
P47A_YELLOW = [(0.06,0.77),(0.1,0.775),(0.16,0.795),(0.2,0.8),(0.22,0.81),(0.26,0.77),(0.3,0.73),(0.34,0.7),(0.38,0.66),(0.42,0.62),(0.45,0.57),(0.48,0.5),(0.5,0.42),(0.52,0.3),(0.53,0.18),(0.54,0.1),(0.56,0.05),(0.58,0.03),(0.6,0.01)]

CURVES = [
    (P27A_BLACK, P27A_RED, P27A_BLUE, P27A_YELLOW),
    (P34B_BLACK, P34B_RED, P34B_BLUE, P34B_YELLOW),
    (P35D_BLACK, P35D_RED, P35D_BLUE, P35D_YELLOW),
    (P36A_BLACK, P36A_RED, P36A_BLUE, P36A_YELLOW),
    (P38A_BLACK, P38A_RED, P38A_BLUE, P38A_YELLOW),
    (P39A_BLACK, P39A_RED, P39A_BLUE, P39A_YELLOW),
    (P40A_BLACK, P40A_RED, P40A_BLUE, P40A_YELLOW),
    (P41A_BLACK, P41A_RED, P41A_BLUE, P41A_YELLOW),
    (P42A_BLACK, P42A_RED, P42A_BLUE, P42A_YELLOW),
    (P43A_BLACK, P43A_RED, P43A_BLUE, P43A_YELLOW),
    (P44A_BLACK, P44A_RED, P44A_BLUE, P44A_YELLOW),
    (P45A_BLACK, P45A_RED, P45A_BLUE, P45A_YELLOW),
    (P47A_BLACK, P47A_RED, P47A_BLUE, P47A_YELLOW),
]

# ---------------- LAYOUT (pixels) ----------------
W, H = 734, 809
# axes rectangles: left, top, right, bottom
AX_PX = [
    (18, 27, 217, 138), (268, 26, 467, 142), (516, 24, 715, 136),
    (18, 191, 217, 305), (268, 191, 467, 306), (516, 193, 715, 304),
    (18, 354, 217, 467), (268, 354, 467, 470), (516, 355, 715, 467),
    (18, 515, 217, 627), (268, 514, 467, 630), (516, 516, 715, 632),
    (18, 680, 217, 793),
]
COL_BOX = [(4, 236), (257, 487), (504, 733)]
ROW_BOX = [(14, 149), (177, 318), (342, 480), (502, 641), (667, 808)]
# positions of resolution labels (data coords, centre)
HALF_POS = [(0.32, 0.53), (0.324, 0.53), (0.30, 0.53), (0.42, 0.52), (0.416, 0.53),
            (0.305, 0.54), (0.398, 0.53), (0.333, 0.54), (0.33, 0.53), (0.335, 0.53),
            (0.427, 0.52), (0.412, 0.54), (0.53, 0.53)]
GOLD_POS = [(0.315, 0.19), (0.286, 0.17), (0.30, 0.16), (0.32, 0.17), (0.363, 0.18),
            (0.253, 0.17), (0.394, 0.16), (0.285, 0.19), (0.285, 0.17), (0.32, 0.17),
            (0.456, 0.17), (0.341, 0.18), (0.495, 0.16)]

COLORS = {"black": "#000000", "red": "#ee2222", "blue": "#4a78cc", "yellow": "#ffc000"}

fig = plt.figure(figsize=(W / 100, H / 100), dpi=100)
fig.patch.set_facecolor("white")


def fmt(v):
    if abs(v) < 1e-9:
        return "0"
    if abs(v - 1) < 1e-9:
        return "1"
    return f"{v:.1f}"


for i, name in enumerate(PANEL_NAMES):
    row, col = divmod(i, 3)
    bl, br = COL_BOX[col]
    bt, bb = ROW_BOX[row]
    fig.add_artist(Rectangle((bl / W, 1 - bb / H), (br - bl) / W, (bb - bt) / H,
                             transform=fig.transFigure, fill=False,
                             ec="#d9d9d9", lw=0.8))
    fig.text((bl - 1) / W, 1 - (bt - 1) / H, name, ha="left", va="bottom",
             fontsize=11, fontweight="bold", family="Open Sans", color="#222222")

    l, t, r, b = AX_PX[i]
    ax = fig.add_axes([l / W, 1 - b / H, (r - l) / W, (b - t) / H])
    xmax = X_MAX[i]
    ax.set_xlim(0, xmax)
    ax.set_ylim(0, 1)
    for s in ("top", "right", "left"):
        ax.spines[s].set_visible(False)
    ax.spines["bottom"].set_color("#bfbfbf")
    ax.spines["bottom"].set_linewidth(1.2)
    xt = [k / 10 for k in range(int(round(xmax * 10)) + 1)]
    yt = [0, 0.2, 0.4, 0.6, 0.8, 1.0]
    ax.set_xticks(xt)
    ax.set_xticklabels([fmt(v) for v in xt])
    ax.set_yticks(yt)
    ax.set_yticklabels([fmt(v) for v in yt])
    ax.tick_params(length=0, labelsize=4.5, colors="#404040", pad=3)
    for lab in ax.get_xticklabels() + ax.get_yticklabels():
        lab.set_fontweight("bold")

    for thr, tl in zip(THRESHOLDS, THRESHOLD_LABELS):
        ax.axhline(thr, color="#b0b0b0", lw=0.6, ls=(0, (2, 1.5)))
        ax.text(0.012 * xmax / 0.5, thr + 0.012, tl, fontsize=3.6,
                color="#606060", ha="left", va="bottom")

    black, red, blue, yellow = CURVES[i]
    for pts, key, ls, lw in [(blue, "blue", "-", 0.9), (yellow, "yellow", (0, (3, 1.5)), 1.0),
                             (red, "red", "-", 1.0), (black, "black", "-", 1.0)]:
        xs = [p[0] for p in pts]
        ys = [p[1] for p in pts]
        ax.plot(xs, ys, color=COLORS[key], ls=ls, lw=lw, clip_on=False,
                solid_joinstyle="round")

    hx, hy = HALF_POS[i]
    gx, gy = GOLD_POS[i]
    ax.text(hx, hy, RES_HALF[i], fontsize=7, color="#333333", ha="center", va="center")
    ax.text(gx, gy, RES_GOLD[i], fontsize=7, color="#333333", ha="center", va="center")

fig.savefig("out.png", dpi=100, facecolor="white")
